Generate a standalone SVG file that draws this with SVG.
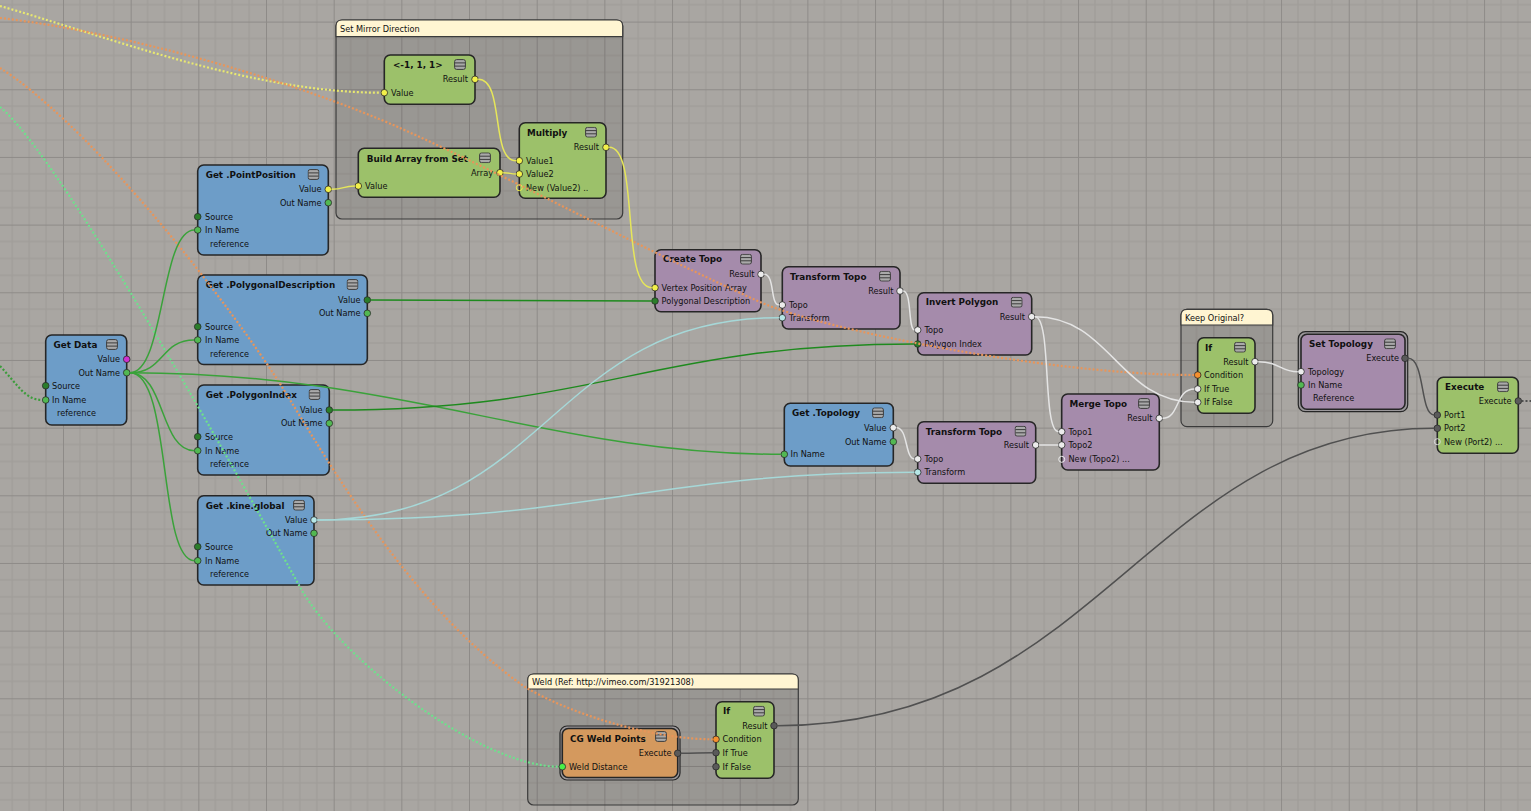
<svg xmlns="http://www.w3.org/2000/svg" width="1531" height="811" viewBox="0 0 1531 811">
<defs>
<pattern id="grid" x="-4.67" y="21.6" width="67.67" height="67.67" patternUnits="userSpaceOnUse">
<rect width="67.67" height="67.67" fill="#a9a6a2"/>
<path d="M16.92 0V67.67M33.83 0V67.67M50.75 0V67.67M0 16.92H67.67M0 33.83H67.67M0 50.75H67.67" stroke="#9e9b97" stroke-width="1"/>
<path d="M0.5 0V67.67M0 0.5H67.67" stroke="#8e8b88" stroke-width="1"/>
</pattern>
<symbol id="ic" viewBox="0 0 12 11" width="12" height="11">
<rect x="0.6" y="0.6" width="10.8" height="9.8" rx="2" fill="#a9a9a9" stroke="#3c3c3c" stroke-width="1"/>
<path d="M1 3.9H11M1 7.1H11" stroke="#3c3c3c" stroke-width="1"/>
</symbol>
<style>
.t{font-family:"DejaVu Sans",sans-serif;font-weight:bold;font-size:8.8px;fill:#111}
.l{font-family:"DejaVu Sans",sans-serif;font-size:8.2px;fill:#111}
.e{text-anchor:end}
.nb{stroke:#262626;stroke-width:1.6}
.gr{fill:#9cc16a}.bl{fill:#6d9dc8}.pu{fill:#a58bab}.or{fill:#d4995e}
.p{stroke:#2a2a2a;stroke-width:0.8}
.py{fill:#f2f04a}.pdg{fill:#2b7d2b}.pg{fill:#52b852}.pw{fill:#ececec}.pc{fill:#b6e6e6}.po{fill:#f5902e}.pk{fill:#5a5a5a}.pm{fill:#d030d0}.pb{fill:#48f048}
.ph{fill:none;stroke-width:1}
.frame{fill:#000;fill-opacity:0.09;stroke:#3b3b3b;stroke-width:1.2}
.hdr{fill:#fff5d2;stroke:#3b3b3b;stroke-width:1.2}
.c{fill:none;stroke-width:1.5}
.d{fill:none;stroke-width:2.2;stroke-dasharray:2 2}
</style>
</defs>
<rect width="1531" height="811" fill="url(#grid)"/>

<g id="frame-mirror">
<rect class="frame" x="336" y="20" width="286.7" height="199" rx="6"/>
<path class="hdr" d="M336 36.7V26Q336 20 342 20H616.7Q622.7 20 622.7 26V36.7Z"/>
<text class="l" x="340" y="31.7">Set Mirror Direction</text>
</g>
<g id="frame-keep">
<rect class="frame" x="1181" y="309.3" width="91.7" height="117.4" rx="6"/>
<path class="hdr" d="M1181 325V315.3Q1181 309.3 1187 309.3H1266.7Q1272.7 309.3 1272.7 315.3V325Z"/>
<text class="l" x="1185" y="320.5">Keep Original?</text>
</g>
<g id="frame-weld">
<rect class="frame" x="527.7" y="674" width="270.6" height="131" rx="6"/>
<path class="hdr" d="M527.7 689V680Q527.7 674 533.7 674H792.3Q798.3 674 798.3 680V689Z"/>
<text class="l" x="532" y="685">Weld (Ref: http://vimeo.com/31921308)</text>
</g>

<g id="n-vec">
<rect class="nb gr" x="384.3" y="55" width="90.7" height="49.3" rx="6"/>
<text class="t" x="393" y="68.3">&lt;-1, 1, 1&gt;</text>
<use href="#ic" x="454" y="59"/>
<text class="l e" x="468" y="82.3">Result</text><circle class="p py" cx="475" cy="79.3" r="3.3"/>
<text class="l" x="391" y="95.7">Value</text><circle class="p py" cx="384.3" cy="92.7" r="3.3"/>
</g>
<g id="n-build">
<rect class="nb gr" x="358.3" y="148.3" width="141.7" height="49" rx="6"/>
<text class="t" x="366.7" y="161.7">Build Array from Set</text>
<use href="#ic" x="479" y="152.3"/>
<text class="l e" x="493" y="175.7">Array</text><circle class="p py" cx="500" cy="172.7" r="3.3"/>
<text class="l" x="365" y="189">Value</text><circle class="p py" cx="358.3" cy="186" r="3.3"/>
</g>
<g id="n-multiply">
<rect class="nb gr" x="519.3" y="122.7" width="86.7" height="75.6" rx="6"/>
<text class="t" x="527" y="135.7">Multiply</text>
<use href="#ic" x="585" y="126.7"/>
<text class="l e" x="599" y="150.3">Result</text><circle class="p py" cx="606" cy="147.3" r="3.3"/>
<text class="l" x="526" y="163.7">Value1</text><circle class="p py" cx="519.3" cy="160.7" r="3.3"/>
<text class="l" x="526" y="177">Value2</text><circle class="p py" cx="519.3" cy="174" r="3.3"/>
<text class="l" x="526" y="190.7">New (Value2) ..</text><circle class="ph" stroke="#f2f04a" cx="519.3" cy="187.7" r="3"/>
</g>

<g id="n-getdata">
<rect class="nb bl" x="45.7" y="335" width="81" height="90" rx="6"/>
<text class="t" x="53.5" y="348">Get Data</text>
<use href="#ic" x="106" y="339"/>
<text class="l e" x="120" y="362.3">Value</text><circle class="p pm" cx="126.7" cy="359.3" r="3.3"/>
<text class="l e" x="120" y="375.7">Out Name</text><circle class="p pg" cx="126.7" cy="372.7" r="3.3"/>
<text class="l" x="52" y="388.7">Source</text><circle class="p pdg" cx="45.7" cy="385.7" r="3.3"/>
<text class="l" x="52" y="403">In Name</text><circle class="p pg" cx="45.7" cy="400" r="3.3"/>
<text class="l" x="57" y="415.5">reference</text>
</g>
<g id="n-pointpos">
<rect class="nb bl" x="197.7" y="165" width="130.6" height="90" rx="6"/>
<text class="t" x="205.7" y="178.3">Get .PointPosition</text>
<use href="#ic" x="307.5" y="169"/>
<text class="l e" x="321.5" y="192.3">Value</text><circle class="p py" cx="328.3" cy="189.3" r="3.3"/>
<text class="l e" x="321.5" y="205.7">Out Name</text><circle class="p pg" cx="328.3" cy="202.7" r="3.3"/>
<text class="l" x="205" y="219.7">Source</text><circle class="p pdg" cx="197.7" cy="216.7" r="3.3"/>
<text class="l" x="205" y="233">In Name</text><circle class="p pg" cx="197.7" cy="230" r="3.3"/>
<text class="l" x="210" y="246.5">reference</text>
</g>
<g id="n-polydesc">
<rect class="nb bl" x="197.7" y="275" width="169.6" height="89.5" rx="6"/>
<text class="t" x="205.7" y="288.3">Get .PolygonalDescription</text>
<use href="#ic" x="346.5" y="279"/>
<text class="l e" x="360.5" y="303">Value</text><circle class="p pdg" cx="367.3" cy="300" r="3.3"/>
<text class="l e" x="360.5" y="316.3">Out Name</text><circle class="p pg" cx="367.3" cy="313.3" r="3.3"/>
<text class="l" x="205" y="329.7">Source</text><circle class="p pdg" cx="197.7" cy="326.7" r="3.3"/>
<text class="l" x="205" y="343">In Name</text><circle class="p pg" cx="197.7" cy="340" r="3.3"/>
<text class="l" x="210" y="356.5">reference</text>
</g>
<g id="n-polyindex">
<rect class="nb bl" x="197.7" y="385" width="131.6" height="90" rx="6"/>
<text class="t" x="205.7" y="398.3">Get .PolygonIndex</text>
<use href="#ic" x="308.5" y="389"/>
<text class="l e" x="322.5" y="413">Value</text><circle class="p pdg" cx="329.3" cy="410" r="3.3"/>
<text class="l e" x="322.5" y="426.3">Out Name</text><circle class="p pg" cx="329.3" cy="423.3" r="3.3"/>
<text class="l" x="205" y="439.7">Source</text><circle class="p pdg" cx="197.7" cy="436.7" r="3.3"/>
<text class="l" x="205" y="453.7">In Name</text><circle class="p pg" cx="197.7" cy="450.7" r="3.3"/>
<text class="l" x="210" y="466.5">reference</text>
</g>
<g id="n-kine">
<rect class="nb bl" x="197.7" y="495.7" width="116.3" height="89.3" rx="6"/>
<text class="t" x="205.7" y="509">Get .kine.global</text>
<use href="#ic" x="293" y="499.7"/>
<text class="l e" x="307.5" y="523">Value</text><circle class="p pc" cx="314" cy="520" r="3.3"/>
<text class="l e" x="307.5" y="536.3">Out Name</text><circle class="p pg" cx="314" cy="533.3" r="3.3"/>
<text class="l" x="205" y="549.7">Source</text><circle class="p pdg" cx="197.7" cy="546.7" r="3.3"/>
<text class="l" x="205" y="563.7">In Name</text><circle class="p pg" cx="197.7" cy="560.7" r="3.3"/>
<text class="l" x="210" y="576.5">reference</text>
</g>

<g id="n-createtopo">
<rect class="nb pu" x="655" y="249.7" width="106" height="62" rx="6"/>
<text class="t" x="663" y="262.3">Create Topo</text>
<use href="#ic" x="740" y="253.7"/>
<text class="l e" x="754.5" y="277.3">Result</text><circle class="p pw" cx="761" cy="274.3" r="3.3"/>
<text class="l" x="661.5" y="290.7">Vertex Position Array</text><circle class="p py" cx="655" cy="287.7" r="3.3"/>
<text class="l" x="661.5" y="304">Polygonal Description</text><circle class="p pdg" cx="655" cy="301" r="3.3"/>
</g>
<g id="n-transform1">
<rect class="nb pu" x="782.3" y="266.7" width="117.7" height="62.3" rx="6"/>
<text class="t" x="790" y="279.7">Transform Topo</text>
<use href="#ic" x="879" y="270.7"/>
<text class="l e" x="893.5" y="294">Result</text><circle class="p pw" cx="900" cy="291" r="3.3"/>
<text class="l" x="789" y="308">Topo</text><circle class="p pw" cx="782.3" cy="305" r="3.3"/>
<text class="l" x="789" y="320.7">Transform</text><circle class="p pc" cx="782.3" cy="317.7" r="3.3"/>
</g>
<g id="n-invert">
<rect class="nb pu" x="917.7" y="292.7" width="114" height="62.3" rx="6"/>
<text class="t" x="925.7" y="305">Invert Polygon</text>
<use href="#ic" x="1010.7" y="296.7"/>
<text class="l e" x="1025" y="319.7">Result</text><circle class="p pw" cx="1031.7" cy="316.7" r="3.3"/>
<text class="l" x="924.5" y="333">Topo</text><circle class="p pw" cx="917.7" cy="330" r="3.3"/>
<text class="l" x="924.5" y="347">Polygon Index</text><circle class="p pdg" cx="917.7" cy="344" r="3.3"/>
</g>
<g id="n-gettopo">
<rect class="nb bl" x="784.3" y="403.3" width="109" height="62.7" rx="6"/>
<text class="t" x="792" y="416">Get .Topology</text>
<use href="#ic" x="872" y="407.3"/>
<text class="l e" x="886.5" y="430.7">Value</text><circle class="p pw" cx="893.3" cy="427.7" r="3.3"/>
<text class="l e" x="886.5" y="444.7">Out Name</text><circle class="p pg" cx="893.3" cy="441.7" r="3.3"/>
<text class="l" x="790.5" y="457.3">In Name</text><circle class="p pg" cx="784.3" cy="454.3" r="3.3"/>
</g>
<g id="n-transform2">
<rect class="nb pu" x="917.7" y="421.7" width="118" height="61.6" rx="6"/>
<text class="t" x="925.7" y="434.5">Transform Topo</text>
<use href="#ic" x="1014.5" y="425.7"/>
<text class="l e" x="1029" y="448">Result</text><circle class="p pw" cx="1035.7" cy="445" r="3.3"/>
<text class="l" x="924.5" y="462">Topo</text><circle class="p pw" cx="917.7" cy="459" r="3.3"/>
<text class="l" x="924.5" y="475.3">Transform</text><circle class="p pc" cx="917.7" cy="472.3" r="3.3"/>
</g>
<g id="n-merge">
<rect class="nb pu" x="1061.7" y="394" width="97.6" height="76" rx="6"/>
<text class="t" x="1069.5" y="406.7">Merge Topo</text>
<use href="#ic" x="1138" y="398"/>
<text class="l e" x="1152.5" y="421.3">Result</text><circle class="p pw" cx="1159.3" cy="418.3" r="3.3"/>
<text class="l" x="1068.5" y="434.7">Topo1</text><circle class="p pw" cx="1061.7" cy="431.7" r="3.3"/>
<text class="l" x="1068.5" y="448">Topo2</text><circle class="p pw" cx="1061.7" cy="445" r="3.3"/>
<text class="l" x="1068.5" y="462.3">New (Topo2) ...</text><circle class="ph" stroke="#ececec" cx="1061.7" cy="459.3" r="3"/>
</g>
<g id="n-if1">
<rect class="nb gr" x="1197.7" y="337.7" width="57.3" height="75.6" rx="6"/>
<text class="t" x="1205" y="350.5">If</text>
<use href="#ic" x="1234" y="341.7"/>
<text class="l e" x="1248.5" y="364.7">Result</text><circle class="p pw" cx="1255" cy="361.7" r="3.3"/>
<text class="l" x="1204" y="378">Condition</text><circle class="p po" cx="1197.7" cy="375" r="3.3"/>
<text class="l" x="1204" y="392">If True</text><circle class="p pw" cx="1197.7" cy="389" r="3.3"/>
<text class="l" x="1204" y="405.3">If False</text><circle class="p pw" cx="1197.7" cy="402.3" r="3.3"/>
</g>
<g id="n-settopo">
<rect x="1298.3" y="331.7" width="109.4" height="80" rx="7" fill="#9a979a" stroke="#262626" stroke-width="1.2"/>
<rect class="nb pu" x="1301" y="334.3" width="104" height="75" rx="6"/>
<text class="t" x="1309" y="346.7">Set Topology</text>
<use href="#ic" x="1384" y="338.3"/>
<text class="l e" x="1399" y="361.3">Execute</text><circle class="p pk" cx="1405" cy="358.3" r="3.3"/>
<text class="l" x="1308" y="374.7">Topology</text><circle class="p pw" cx="1301" cy="371.7" r="3.3"/>
<text class="l" x="1308" y="388">In Name</text><circle class="p pg" cx="1301" cy="385" r="3.3"/>
<text class="l" x="1313" y="401.3">Reference</text>
</g>
<g id="n-execute">
<rect class="nb gr" x="1437.3" y="377.3" width="81" height="76" rx="6"/>
<text class="t" x="1445" y="390">Execute</text>
<use href="#ic" x="1497" y="381.3"/>
<text class="l e" x="1511.5" y="404">Execute</text><circle class="p pk" cx="1518.3" cy="401" r="3.3"/>
<text class="l" x="1444" y="418">Port1</text><circle class="p pk" cx="1437.3" cy="415" r="3.3"/>
<text class="l" x="1444" y="431.3">Port2</text><circle class="p pk" cx="1437.3" cy="428.3" r="3.3"/>
<text class="l" x="1444" y="444.7">New (Port2) ...</text><circle class="ph" stroke="#d8d8d8" cx="1437.3" cy="441.7" r="3"/>
</g>
<g id="n-weld">
<rect x="560" y="726" width="120" height="54" rx="7" fill="#9a979a" stroke="#262626" stroke-width="1.2"/>
<rect class="nb or" x="562.3" y="728.5" width="115.4" height="49" rx="6"/>
<text class="t" x="570" y="741.7">CG Weld Points</text>
<use href="#ic" x="655" y="731"/>
<text class="l e" x="671.5" y="756.3">Execute</text><circle class="p pk" cx="677.7" cy="753.3" r="3.3"/>
<text class="l" x="569" y="769.7">Weld Distance</text><circle class="p pb" cx="562.3" cy="766.7" r="3.3"/>
</g>
<g id="n-if2">
<rect class="nb gr" x="716" y="701.7" width="58" height="76.6" rx="6"/>
<text class="t" x="723" y="714.3">If</text>
<use href="#ic" x="753" y="705.7"/>
<text class="l e" x="767.5" y="728.7">Result</text><circle class="p pk" cx="774" cy="725.7" r="3.3"/>
<text class="l" x="722.5" y="742.3">Condition</text><circle class="p po" cx="716" cy="739.3" r="3.3"/>
<text class="l" x="722.5" y="755.7">If True</text><circle class="p pk" cx="716" cy="752.7" r="3.3"/>
<text class="l" x="722.5" y="769.7">If False</text><circle class="p pk" cx="716" cy="766.7" r="3.3"/>
</g>

<g id="connectors">
<path class="d" stroke="#e8e870" d="M0 6C100 34 250 92.7 381 92.7"/>
<path class="d" stroke="#e8955a" d="M0 18C130 33 300 83 400 128C520 182 640 248 760 302C820 329 1050 375 1194.5 375"/>
<path class="d" stroke="#e8955a" d="M0 68C80 118 203 268 273 373C313 433 400 600 525 687C580 719 660 739.3 712.8 739.3"/>
<path class="d" stroke="#6ee08c" d="M0 107C60 155 250 497 300 587C340 659 480 766.7 559 766.7"/>
<path class="d" stroke="#3c9c3c" d="M0 366C18 385 25 400 42.5 400"/>
<path class="d" stroke="#505050" d="M1521.5 401H1531"/>
<g stroke="#3aa23a" class="c">
<path d="M130 372.7C165 372.7 160 230 194.5 230"/>
<path d="M130 372.7C165 372.7 160 340 194.5 340"/>
<path d="M130 372.7C165 372.7 160 450.7 194.5 450.7"/>
<path d="M130 372.7C172 372.7 158 560.7 194.5 560.7"/>
<path d="M130 372.7C400 372.7 550 454.3 781 454.3"/>
</g>
<g stroke="#1e8a1e" class="c">
<path d="M370.5 300C500 300 520 301 651.8 301"/>
<path d="M332.5 410C600 410 650 344 914.5 344"/>
</g>
<g stroke="#e6e65a" class="c">
<path d="M331.5 189.3C345 189.3 342 186 355 186"/>
<path d="M478.2 79.3C505 79.3 490 160.7 516 160.7"/>
<path d="M503.2 172.7C510 172.7 510 174 516 174"/>
<path d="M609.2 147.3C640 147.3 620 287.7 651.8 287.7"/>
</g>
<g stroke="#e4e4e4" class="c">
<path d="M764.2 274.3C775 274.3 770 305 779 305"/>
<path d="M903.2 291C912 291 908 330 914.5 330"/>
<path d="M1035 316.7C1052 316.7 1042 431.7 1058.5 431.7"/>
<path d="M1035 316.7C1110 316.7 1120 402.3 1194.5 402.3"/>
<path d="M1162.5 418.3C1180 418.3 1175 389 1194.5 389"/>
<path d="M896.5 427.7C908 427.7 905 459 914.5 459"/>
<path d="M1039 445H1058.5"/>
<path d="M1258.2 361.7C1280 361.7 1280 371.7 1297.8 371.7"/>
</g>
<g stroke="#a6d8d8" class="c">
<path d="M317.2 520C550 520 550 317.7 779 317.7"/>
<path d="M317.2 520C600 520 650 472.3 914.5 472.3"/>
</g>
<g stroke="#505050" class="c">
<path d="M1408.2 358.3C1425 358.3 1420 415 1434 415"/>
<path d="M777.2 725.7C1100 725.7 1150 428.3 1434 428.3"/>
<path d="M681 753.3C695 753.3 700 752.7 712.8 752.7"/>
</g>
</g>
</svg>
